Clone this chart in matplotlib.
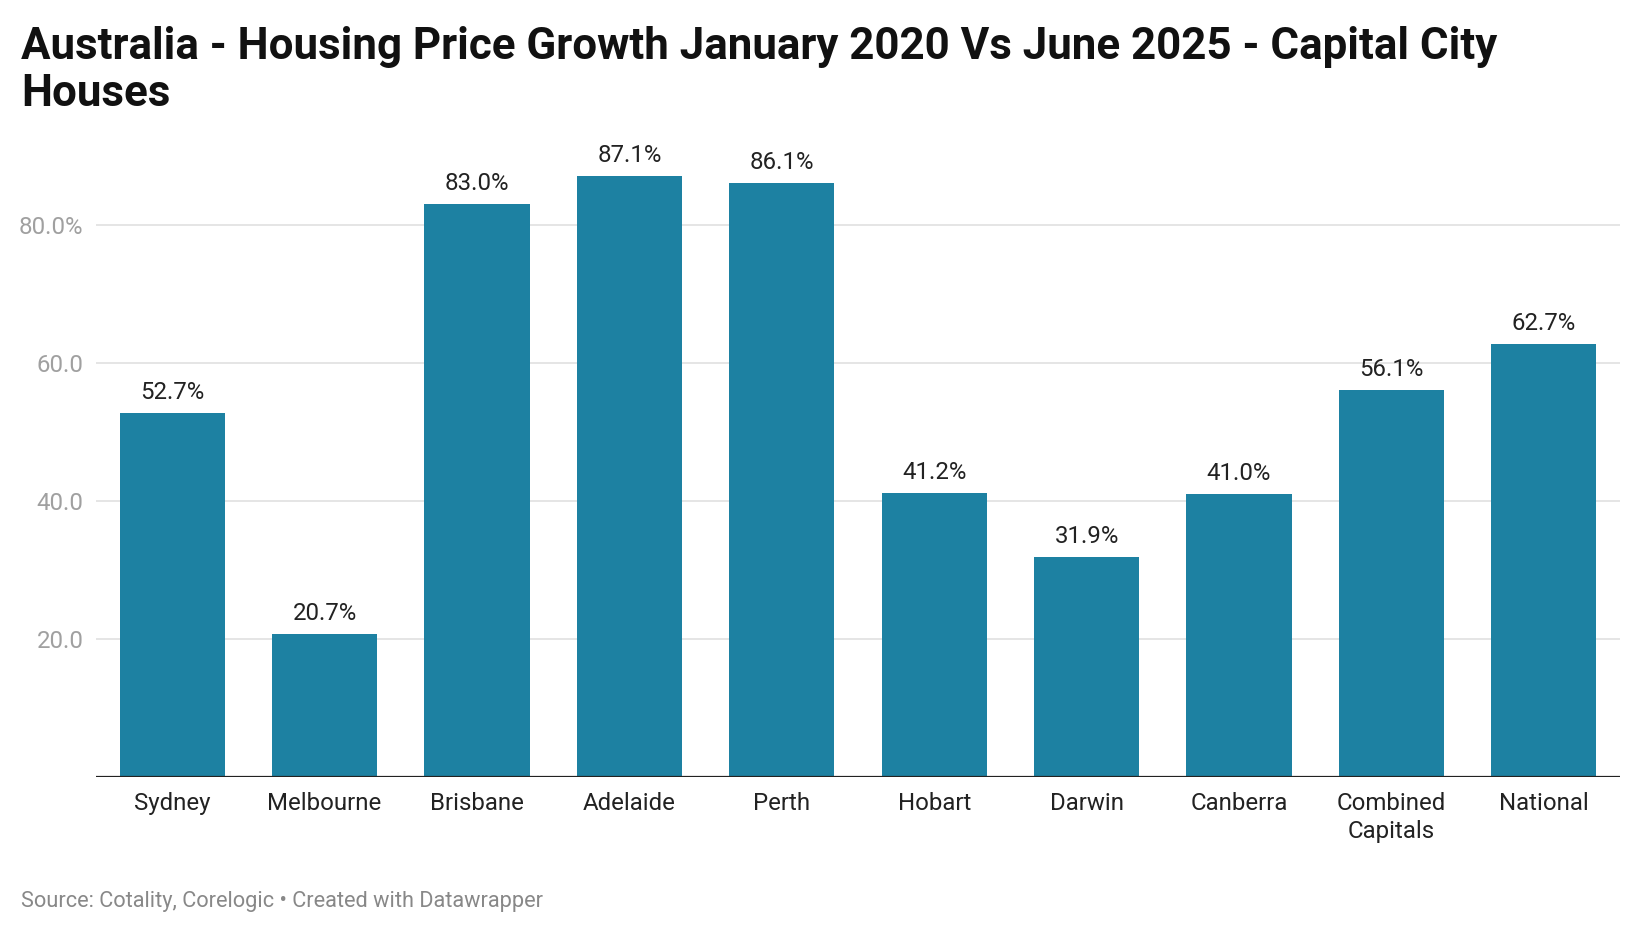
import matplotlib
matplotlib.use("Agg")
import matplotlib.pyplot as plt

categories = ["Sydney", "Melbourne", "Brisbane", "Adelaide", "Perth", "Hobart",
              "Darwin", "Canberra", "Combined\nCapitals", "National"]
values = [52.7, 20.7, 83.0, 87.1, 86.1, 41.2, 31.9, 41.0, 56.1, 62.7]
yticks = [20, 40, 60, 80]
ytick_labels = ["20.0", "40.0", "60.0", "80.0%"]

title = "Australia - Housing Price Growth January 2020 Vs June 2025 - Capital City\nHouses"
source = "Source: Cotality, Corelogic \u2022 Created with Datawrapper"

plt.rcParams['font.family'] = ['Roboto', 'DejaVu Sans']

W, H = 1640, 936
fig = plt.figure(figsize=(W / 100, H / 100), dpi=100)
left, right = 96 / W, 1620 / W
bottom, top = 1 - 777 / H, 1 - 156 / H
ax = fig.add_axes([left, bottom, right - left, top - bottom])

x = list(range(len(categories)))
ax.bar(x, values, width=0.69, color="#1d81a2", zorder=2)
ax.set_xlim(-0.5, len(categories) - 0.5)
ax.set_ylim(0, 90)

for v in yticks:
    ax.axhline(v, color="#e3e3e3", lw=1.3, zorder=1)
ax.axhline(0, color="#222222", lw=1.6, zorder=3)

ax.set_yticks(yticks)
ax.set_yticklabels(ytick_labels, fontsize=17.3, color="#a0a0a0")
ax.tick_params(axis="y", length=0, pad=9)
ax.set_xticks(x)
ax.set_xticklabels(categories, fontsize=17.3, color="#222222", linespacing=1.3)
ax.tick_params(axis="x", length=0, pad=10.5)

for s in ax.spines.values():
    s.set_visible(False)

for xi, v in zip(x, values):
    ax.annotate(f"{v:.1f}%", (xi, v), xytext=(0, 10), textcoords="offset points",
                ha="center", va="baseline", fontsize=17.3, color="#222222",
                clip_on=False)

fig.text(21 / W, 1 - 26 / H, title, fontsize=31.6, fontweight="bold",
         color="#111111", ha="left", va="top", linespacing=1.15)
fig.text(21 / W, 1 - 902 / H, source, fontsize=15.7, color="#888888",
         ha="left", va="center")

fig.savefig("out.png", dpi=100)
